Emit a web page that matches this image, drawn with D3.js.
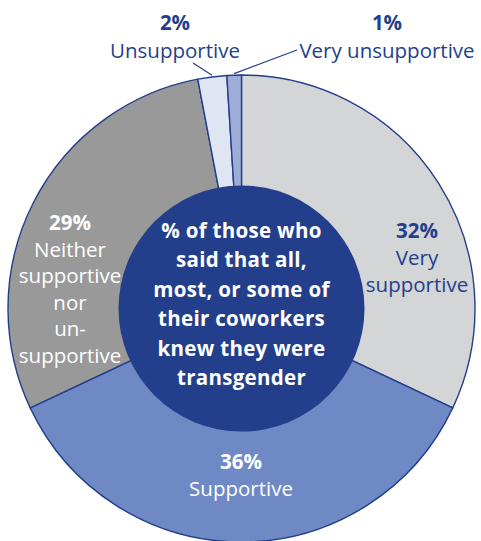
<!DOCTYPE html>
<html>
<head>
<meta charset="utf-8">
<script src="https://cdn.jsdelivr.net/npm/d3@7"></script>
<style>
  html, body { margin: 0; padding: 0; background: #ffffff; }
  svg { display: block; }
  text { font-family: "Open Sans", Lato, sans-serif; }
</style>
</head>
<body>
<svg id="chart" width="481" height="541"></svg>
<script>
// ---- data ----
const categories = ["Very supportive", "Supportive", "Neither supportive nor unsupportive", "Unsupportive", "Very unsupportive"];
const values = [32, 36, 29, 2, 1];
const pctLabels = ["32%", "36%", "29%", "2%", "1%"];
const nameLines = [
  ["Very", "supportive"],
  ["Supportive"],
  ["Neither", "supportive", "nor", "un-", "supportive"],
  ["Unsupportive"],
  ["Very unsupportive"]
];
const centerLines = ["% of those who", "said that all,", "most, or some of", "their coworkers", "knew they were", "transgender"];

// ---- styles / layout ----
const colors = ["#d4d5d7", "#6f89c5", "#999999", "#dfe5f3", "#9eacd8"];
const darkBlue = "#233f8c";
const labelColors = [darkBlue, "#ffffff", "#ffffff", darkBlue, darkBlue];
const cx = 241.5, cy = 308.5, R = 233.5, rInner = 123;
const labelPos = [
  { x: 417, y: 238, lh: 27 },
  { x: 241, y: 469, lh: 27 },
  { x: 70, y: 230, lh: 26.5 },
  { x: 175, y: 30, lh: 28 },
  { x: 387, y: 30, lh: 28 }
];
const leaders = [null, null, null, { from: [193, 63] }, { from: [297, 50] }];

const svg = d3.select("#chart");
const g = svg.append("g").attr("transform", `translate(${cx},${cy})`);

const pie = d3.pie().sort(null).value(d => d);
const arcs = pie(values);
const arc = d3.arc().innerRadius(0).outerRadius(R);

g.selectAll("path.slice")
  .data(arcs)
  .join("path")
  .attr("class", "slice")
  .attr("d", arc)
  .attr("fill", (d, i) => colors[i])
  .attr("stroke", darkBlue)
  .attr("stroke-width", 1.4)
  .attr("stroke-linejoin", "round");

g.append("circle").attr("r", rInner).attr("fill", darkBlue);

arcs.forEach((d, i) => {
  if (!leaders[i]) return;
  const mid = (d.startAngle + d.endAngle) / 2;
  const px = Math.sin(mid) * (R + 1.5), py = -Math.cos(mid) * (R + 1.5);
  svg.append("line")
    .attr("x1", cx + px).attr("y1", cy + py)
    .attr("x2", leaders[i].from[0]).attr("y2", leaders[i].from[1])
    .attr("stroke", darkBlue).attr("stroke-width", 1.2);
});

arcs.forEach((d, i) => {
  const p = labelPos[i];
  svg.append("text")
    .attr("text-anchor", "middle")
    .attr("fill", labelColors[i])
    .attr("x", p.x).attr("y", p.y)
    .attr("font-weight", 700).attr("font-size", 20.5)
    .text(pctLabels[i]);
  const t = svg.append("text")
    .attr("text-anchor", "middle")
    .attr("fill", labelColors[i])
    .attr("font-weight", 400).attr("font-size", 20.5);
  nameLines[i].forEach((line, j) => {
    t.append("tspan")
      .attr("x", p.x).attr("y", p.y + p.lh * (j + 1))
      .text(line);
  });
});

const ct = svg.append("text").attr("text-anchor", "middle").attr("fill", "#ffffff")
  .attr("font-weight", 700).attr("font-size", 20.5).attr("letter-spacing", 0.3);
centerLines.forEach((line, j) => {
  ct.append("tspan").attr("x", cx).attr("y", 238 + j * 29.4).text(line);
});
</script>
</body>
</html>
